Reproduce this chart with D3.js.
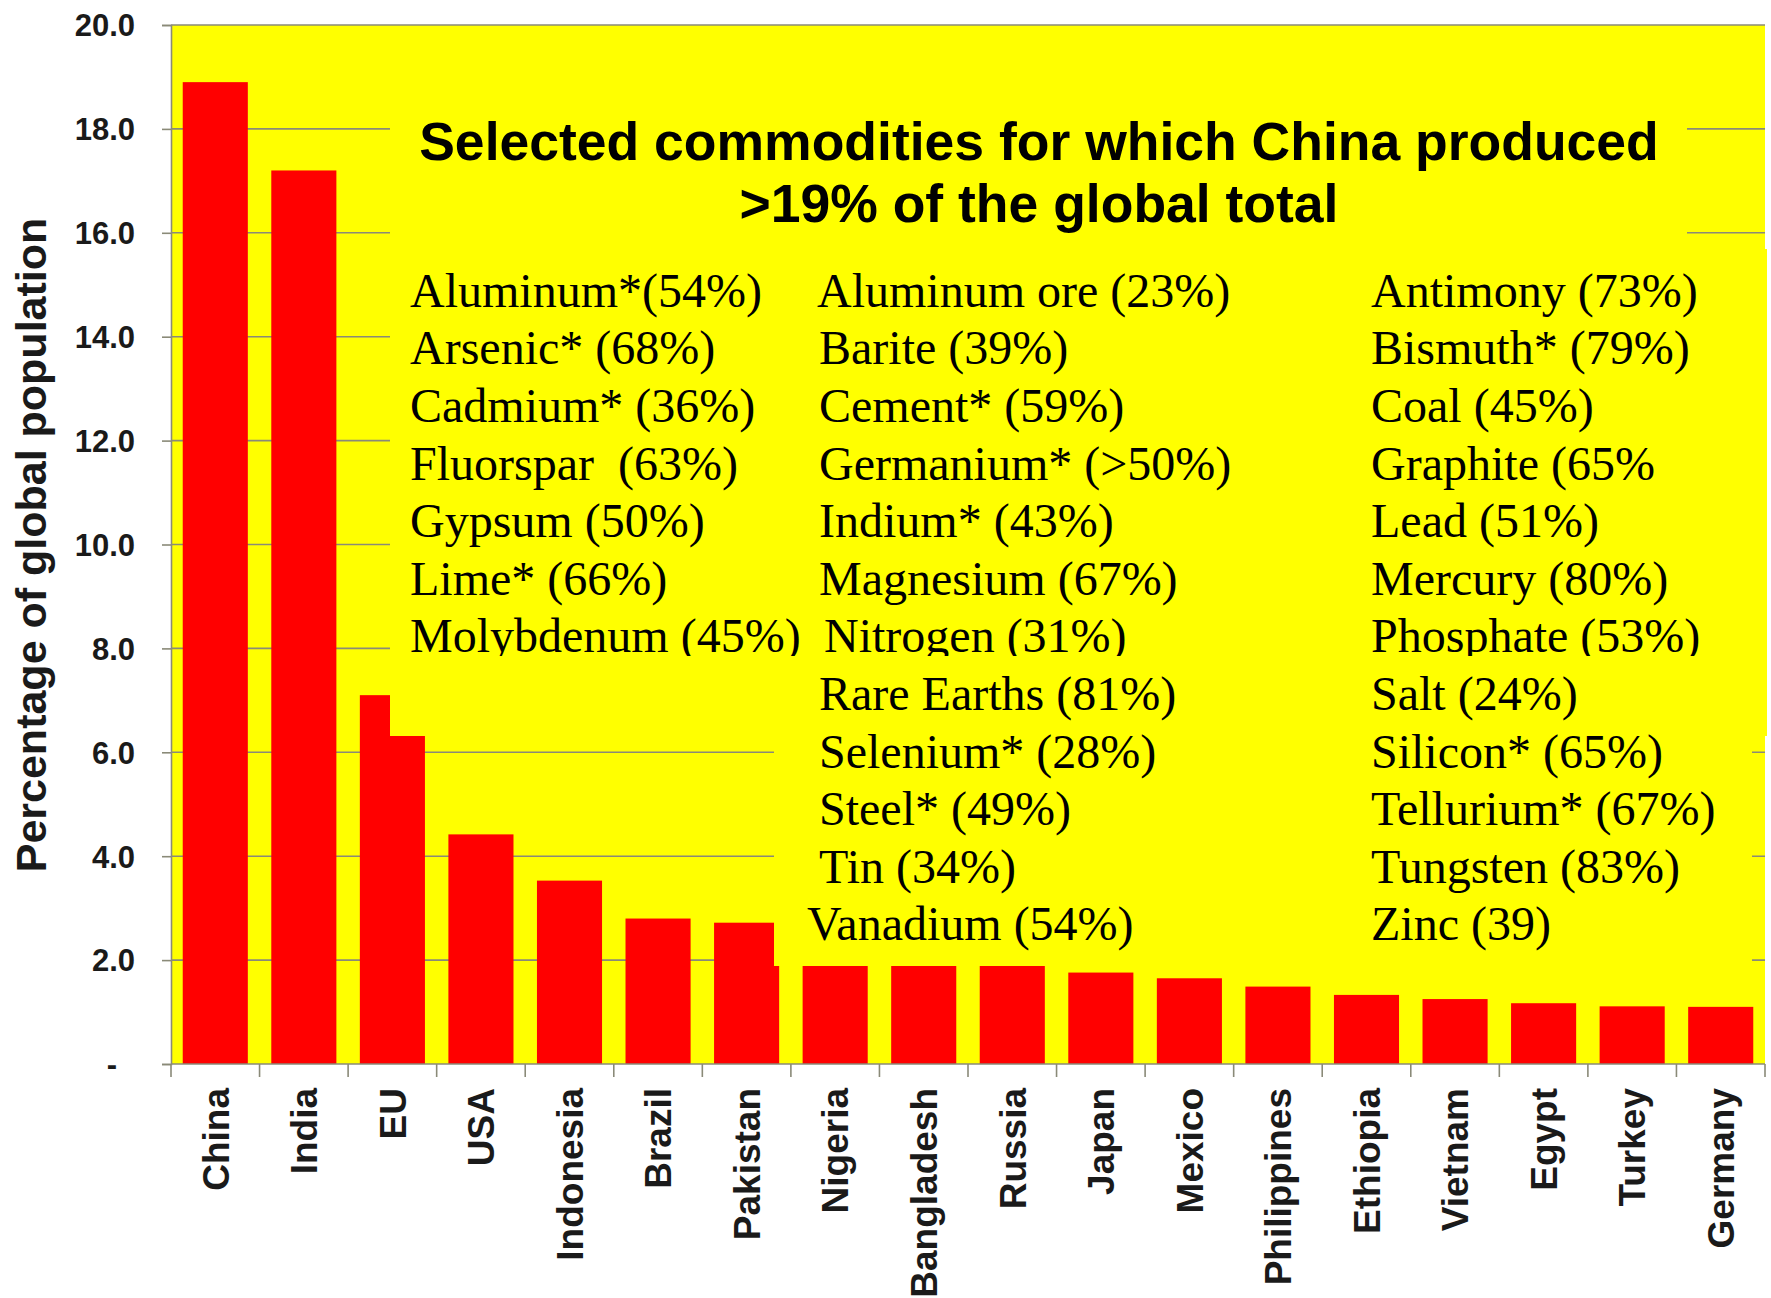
<!DOCTYPE html>
<html>
<head>
<meta charset="utf-8">
<script src="https://cdn.jsdelivr.net/npm/d3@7"></script>
<style>
  html, body { margin: 0; padding: 0; background: #ffffff; }
  svg { display: block; }
  .serif { font-family: "Liberation Serif", "Times New Roman", serif; white-space: pre; }
  .sans { font-family: "Liberation Sans", Arial, sans-serif; }
</style>
</head>
<body>
<svg id="chart" width="1771" height="1298"></svg>
<script>
// Share of world population by country / region (percent)
const categories = ["China", "India", "EU", "USA", "Indonesia", "Brazil", "Pakistan", "Nigeria",
  "Bangladesh", "Russia", "Japan", "Mexico", "Philippines", "Ethiopia", "Vietnam", "Egypt",
  "Turkey", "Germany"];
const populationShare = [18.9, 17.2, 7.1, 4.42, 3.53, 2.8, 2.72, 2.5,
  2.2, 2.0, 1.76, 1.65, 1.49, 1.33, 1.25, 1.17,
  1.11, 1.10];
const yTicks = [0, 2, 4, 6, 8, 10, 12, 14, 16, 18, 20];
const yAxisTitle = "Percentage of global population";

// Annotation text
const titleLines = ["Selected commodities for which China produced", ">19% of the global total"];
const commoditiesCol1 = ["Aluminum*(54%)", "Arsenic* (68%)", "Cadmium* (36%)", "Fluorspar  (63%)",
  "Gypsum (50%)", "Lime* (66%)", "Molybdenum (45%)"];
const commoditiesCol2 = ["Aluminum ore (23%)", "Barite (39%)", "Cement* (59%)", "Germanium* (>50%)",
  "Indium* (43%)", "Magnesium (67%)", "Nitrogen (31%)", "Rare Earths (81%)", "Selenium* (28%)",
  "Steel* (49%)", "Tin (34%)", "Vanadium (54%)"];
const commoditiesCol3 = ["Antimony (73%)", "Bismuth* (79%)", "Coal (45%)", "Graphite (65%",
  "Lead (51%)", "Mercury (80%)", "Phosphate (53%)", "Salt (24%)", "Silicon* (65%)",
  "Tellurium* (67%)", "Tungsten (83%)", "Zinc (39)"];

const svg = d3.select("#chart");
const margin = { left: 171, right: 1765, top: 25, bottom: 1064 };
const YELLOW = "#ffff00", RED = "#ff0000", GRID = "#8a8a78";

const x = d3.scaleBand().domain(categories).range([margin.left, margin.right])
  .paddingInner(0.265).paddingOuter(0.1325);
const y = d3.scaleLinear().domain([0, 20]).range([margin.bottom, margin.top]);

// plot area
svg.append("rect").attr("x", margin.left).attr("y", margin.top)
  .attr("width", margin.right - margin.left).attr("height", margin.bottom - margin.top)
  .attr("fill", YELLOW);

// gridlines
svg.append("g").selectAll("line").data(yTicks.filter(d => d > 0)).join("line")
  .attr("x1", margin.left).attr("x2", margin.right)
  .attr("y1", d => y(d)).attr("y2", d => y(d))
  .attr("stroke", GRID).attr("stroke-width", 1.6);

// bars
svg.append("g").selectAll("rect").data(categories).join("rect")
  .attr("x", d => x(d)).attr("width", x.bandwidth())
  .attr("y", (d, i) => y(populationShare[i]))
  .attr("height", (d, i) => y(0) - y(populationShare[i]))
  .attr("fill", RED);

// y axis
const yAxis = svg.append("g").attr("transform", `translate(${margin.left},0)`)
  .call(d3.axisLeft(y).tickValues(yTicks).tickSize(9).tickPadding(27)
    .tickFormat(d => d === 0 ? "-" : d3.format(".1f")(d)));
yAxis.select(".domain").attr("stroke", GRID).attr("stroke-width", 1.6);
yAxis.selectAll(".tick line").attr("stroke", GRID).attr("stroke-width", 1.6);
yAxis.selectAll(".tick text")
  .attr("class", "sans").attr("font-size", 31).attr("font-weight", "bold")
  .attr("fill", "#1a1a1a").attr("dy", "0.35em")
  .attr("dx", d => d === 0 ? -18 : 0);

// x axis with boundary ticks between bands
const xAxis = svg.append("g").attr("transform", `translate(0,${margin.bottom})`);
xAxis.append("line").attr("x1", margin.left).attr("x2", margin.right)
  .attr("stroke", GRID).attr("stroke-width", 1.6);
const edges = categories.map(c => x(c) - x.step() * x.paddingInner() / 2)
  .concat([margin.right]);
xAxis.selectAll("line.edge").data(edges).join("line").attr("class", "edge")
  .attr("x1", d => d).attr("x2", d => d).attr("y1", 0).attr("y2", 13)
  .attr("stroke", GRID).attr("stroke-width", 1.6);
xAxis.selectAll("text").data(categories).join("text")
  .attr("class", "sans").attr("font-size", 37).attr("font-weight", "bold").attr("fill", "#1a1a1a")
  .attr("text-anchor", "end")
  .attr("transform", d => `translate(${x(d) + x.bandwidth() / 2},24) rotate(-90)`)
  .attr("dy", "0.36em")
  .text(d => d);

// y axis title
svg.append("text").attr("class", "sans").attr("font-size", 43).attr("font-weight", "bold")
  .attr("fill", "#1a1a1a").attr("text-anchor", "middle")
  .attr("transform", "translate(46,545) rotate(-90)")
  .text(yAxisTitle);

// annotation panels laid over the chart
const panel = svg.append("g");
panel.append("rect").attr("x", 390).attr("y", 95).attr("width", 1687 - 390).attr("height", 250 - 95)
  .attr("fill", YELLOW);
panel.append("rect").attr("x", 390).attr("y", 249).attr("width", 1767 - 390).attr("height", 656 - 249)
  .attr("fill", YELLOW);

panel.append("g").selectAll("text").data(titleLines).join("text")
  .attr("class", "sans").attr("font-size", 53.5).attr("font-weight", "bold").attr("fill", "#000")
  .attr("text-anchor", "middle").attr("x", 1039).attr("y", (d, i) => 160 + i * 62)
  .text(d => d);

const rowY = i => 306.7 + i * 57.6;
const nudge = { "Nitrogen (31%)": 5, "Vanadium (54%)": -12, "Aluminum ore (23%)": -2 };
function writeColumn(g, list, x0, from, to) {
  g.append("g").selectAll("text").data(list.slice(from, to)).join("text")
    .attr("class", "serif").attr("font-size", 48).attr("fill", "#000")
    .attr("x", d => x0 + (nudge[d] || 0))
    .attr("y", (d, i) => rowY(from + i))
    .text(d => d);
}
writeColumn(panel, commoditiesCol1, 410, 0, 7);
writeColumn(panel, commoditiesCol2, 819, 0, 7);
writeColumn(panel, commoditiesCol3, 1371, 0, 7);

// second panel overlaps the lower edge of the first
panel.append("path").attr("fill", YELLOW)
  .attr("d", "M390,656 L1767,656 L1767,736 L1752,736 L1752,966 L774,966 L774,736 L390,736 Z");
writeColumn(panel, commoditiesCol2, 819, 7, 12);
writeColumn(panel, commoditiesCol3, 1371, 7, 12);
</script>
</body>
</html>
